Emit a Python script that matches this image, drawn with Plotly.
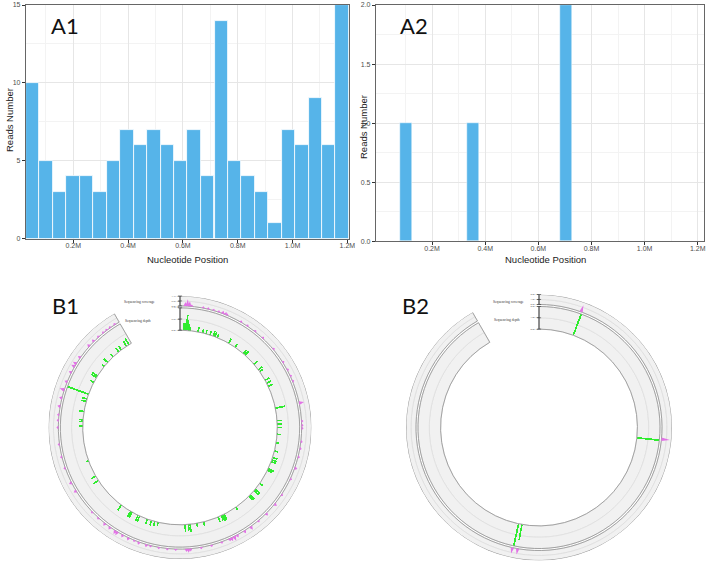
import plotly.graph_objects as go

W, H = 709, 563

# ---------------- Panel A data ----------------
a1_bin_center_mb = [0.052, 0.101, 0.150, 0.199, 0.249, 0.298, 0.347, 0.396, 0.445, 0.494,
                    0.543, 0.592, 0.641, 0.690, 0.740, 0.789, 0.838, 0.887, 0.936, 0.985,
                    1.034, 1.083, 1.132, 1.181]
a1_reads = [10, 5, 3, 4, 4, 3, 5, 7, 6, 7, 6, 5, 7, 4, 14, 5, 4, 3, 1, 7, 6, 9, 6, 15]

a2_bin_center_mb = [0.102, 0.353, 0.704]
a2_reads = [1, 1, 2]

x_tick_mb = [0.2, 0.4, 0.6, 0.8, 1.0, 1.2]
x_tick_labels = ["0.2M", "0.4M", "0.6M", "0.8M", "1.0M", "1.2M"]
x_minor_mb = [0.1, 0.3, 0.5, 0.7, 0.9, 1.1]
a1_y_ticks = [0, 5, 10, 15]
a1_y_minor = [2.5, 7.5, 12.5]
a2_y_ticks = [0, 0.5, 1.0, 1.5, 2.0]
a2_y_minor = [0.25, 0.75, 1.25, 1.75]

# ---------------- Panel B1 data (genome position kb, value) ----------------
b1_depth_pos_kb = [7.3, 9.5, 11.6, 14.2, 16.4, 18.9, 21.5, 38.9, 49.1, 56.4, 65.5, 72.7, 76.4, 81.8,
                   109.1, 125.5, 148.0, 152.7, 179.6, 194.9, 200.0, 221.8, 229.1, 236.4, 285.5,
                   312.7, 320.0, 327.3, 341.8, 360.0, 378.2, 392.7, 398.2, 401.8, 418.2, 421.8,
                   454.5, 470.9, 474.5, 487.3, 490.9, 527.3, 556.4, 560.0, 563.6, 570.9, 603.6,
                   618.2, 632.7, 636.4, 643.6, 701.8, 709.1, 716.4, 725.8, 743.6, 747.3, 761.8,
                   765.5, 789.1, 861.8, 872.7, 909.1, 985.5, 994.5, 998.2, 1016.4, 1038.2,
                   1043.6, 1054.5, 1082.5, 1094.5, 1098.2, 1123.6, 1134.5, 1151.3, 1167.3,
                   1174.5, 1188.0, 1194.2]
b1_depth_val = [350, 350, 350, 750, 500, 350, 200, 250, 200, 200, 200, 250, 250, 200,
                250, 200, 250, 250, 250, 250, 200, 250, 250, 250, 500,
                250, 250, 250, 200, 150, 200, 250, 250, 250, 300, 250,
                200, 300, 300, 300, 250, 150, 300, 350, 250, 250, 200,
                200, 400, 300, 350, 200, 250, 250, 250, 300, 300, 300,
                300, 300, 300, 250, 150, 200, 200, 200, 250, 250,
                250, 1100, 200, 300, 300, 150, 250, 200, 250,
                250, 300, 350]
b1_cov_pos_kb = [9.1, 12.7, 16.4, 20.0, 40.0, 48.7, 58.2, 67.3, 74.5, 79.6, 82.5, 109.1, 121.8,
                 138.2, 155.6, 181.8, 209.5, 224.7, 236.4, 245.8, 285.1, 316.4, 323.6, 328.7,
                 351.6, 363.6, 378.2, 398.2, 418.2, 449.1, 469.1, 490.9, 509.1, 525.5, 538.2,
                 552.7, 558.5, 563.6, 567.3, 581.8, 600.0, 618.2, 636.4, 640.0, 643.6, 661.8,
                 676.4, 690.9, 705.5, 712.7, 726.2, 734.5, 745.5, 756.4, 767.3, 770.9, 781.8,
                 792.7, 807.3, 821.8, 867.6, 883.6, 910.9, 930.9, 952.7, 981.8, 994.2, 1003.6,
                 1018.2, 1032.7, 1047.3, 1061.8, 1079.3, 1090.9, 1096.4, 1109.1, 1134.2,
                 1145.5, 1156.4, 1167.3, 1174.5, 1181.8, 1191.3]
b1_cov_val = [440, 770, 550, 220, 220, 220, 220, 220, 330, 330, 220, 220, 220,
              220, 220, 220, 220, 220, 220, 220, 550, 220, 220, 220,
              220, 220, 220, 330, 220, 220, 330, 330, 220, 440, 330,
              330, 550, 440, 330, 220, 220, 220, 330, 440, 330, 220,
              220, 220, 220, 330, 330, 220, 330, 330, 440, 440, 330,
              330, 220, 220, 330, 330, 220, 220, 220, 220, 220, 220,
              330, 330, 550, 330, 330, 440, 440, 330, 330,
              330, 220, 220, 220, 220, 220]
b1_depth_max = 1100
b1_cov_max = 1100
b1_depth_ticks = [0, 550, 1100]
b1_depth_tick_labels = ["0.0e+00", "5.5e+02", "1.1e+03"]
b1_cov_ticks = [0, 550, 1100]
b1_cov_tick_labels = ["0.0e+00", "5.5e+02", "1.1e+03"]

# ---------------- Panel B2 data ----------------
b2_depth_pos_kb = [74.2, 349.1, 690.9, 698.2]
b2_depth_val = [2, 2, 1.4, 2]
b2_cov_pos_kb = [72.7, 347.3, 690.9, 700.0]
b2_cov_val = [1.4, 1.7, 1.2, 1.2]
b2_depth_max = 2
b2_cov_max = 2
b2_depth_ticks = [0, 1, 2]
b2_depth_tick_labels = ["0.0e+00", "1.0e+00", "2.0e+00"]
b2_cov_ticks = [0, 1, 2]
b2_cov_tick_labels = ["0.0e+00", "1.0e+00", "2.0e+00"]

track_names = ["Sequencing coverage", "Sequencing depth"]
panel_labels = ["A1", "A2", "B1", "B2"]

# ---------------- styling / geometry ----------------
BAR_BLUE = "#56B4E9"
GREEN = "#2fec2f"
MAGENTA = "#e273e6"
SPAN = 330.0                 # degrees covered by the genome ring
DEG_PER_KB = SPAN / 1200.0
DEPTH_IN, DEPTH_OUT = 0.74, 0.91
COV_IN, COV_OUT = 0.925, 1.0
FONT = "Liberation Sans"

fig = go.Figure()

fig.add_trace(go.Bar(x=a1_bin_center_mb, y=a1_reads, width=0.0491, xaxis="x", yaxis="y",
                     marker=dict(color=BAR_BLUE, line=dict(color="white", width=0.8)),
                     showlegend=False))
fig.add_trace(go.Bar(x=a2_bin_center_mb, y=a2_reads, width=0.046, xaxis="x2", yaxis="y2",
                     marker=dict(color=BAR_BLUE, line=dict(color="white", width=0.5)),
                     showlegend=False))


def add_ring(subplot, depth_pos, depth_val, depth_max, cov_pos, cov_val, cov_max,
             depth_ticks, depth_labels, cov_ticks, cov_labels, bar_w, spike_w):
    # track backgrounds split in halves (mid grid line)
    for r0, r1 in [(DEPTH_IN, DEPTH_OUT), (COV_IN, COV_OUT)]:
        mid = (r0 + r1) / 2
        fig.add_trace(go.Barpolar(theta=[SPAN / 2, SPAN / 2], width=[SPAN, SPAN],
                                  base=[r0, mid], r=[mid - r0, r1 - mid], subplot=subplot,
                                  marker=dict(color="#f1f1f1", line=dict(color="#dcdcdc", width=0.7)),
                                  hoverinfo="skip", showlegend=False))
    # depth bars
    fig.add_trace(go.Barpolar(theta=[p * DEG_PER_KB for p in depth_pos],
                              r=[v / depth_max * (DEPTH_OUT - DEPTH_IN) for v in depth_val],
                              base=DEPTH_IN, width=bar_w, subplot=subplot,
                              marker=dict(color=GREEN, line=dict(width=0)),
                              showlegend=False))
    # coverage spikes as a filled polygon (outline hidden)
    items = sorted(zip(cov_pos, cov_val))
    th, rr = [], []
    for p, v in items:
        t = p * DEG_PER_KB
        h = v / cov_max * (COV_OUT - COV_IN)
        th += [t - spike_w, t, t + spike_w]
        rr += [COV_IN, COV_IN + h, COV_IN]
    base_th = [t for t, r in zip(th, rr) if r == COV_IN]
    th_full = th + base_th[::-1]
    rr_full = rr + [COV_IN] * len(base_th)
    fig.add_trace(go.Scatterpolar(theta=th_full, r=rr_full, mode="lines", fill="toself",
                                  fillcolor=MAGENTA, line=dict(width=0, color=MAGENTA),
                                  subplot=subplot, showlegend=False, hoverinfo="skip"))
    # track outlines
    fig.add_trace(go.Barpolar(theta=[SPAN / 2, SPAN / 2], width=[SPAN, SPAN],
                              base=[DEPTH_IN, COV_IN], r=[DEPTH_OUT - DEPTH_IN, COV_OUT - COV_IN],
                              subplot=subplot,
                              marker=dict(color="rgba(0,0,0,0)", line=dict(color="#9a9a9a", width=0.9)),
                              hoverinfo="skip", showlegend=False))
    # small scale axis at the ring start
    d_r = [DEPTH_IN + t / depth_max * (DEPTH_OUT - DEPTH_IN) for t in depth_ticks]
    c_r = [COV_IN + t / cov_max * (COV_OUT - COV_IN) for t in cov_ticks]
    fig.add_trace(go.Scatterpolar(theta=[0] * (len(d_r) + len(c_r) + 1),
                                  r=d_r + [None] + c_r, mode="lines+markers",
                                  line=dict(color="#333333", width=0.8),
                                  marker=dict(symbol="line-ew", size=3,
                                              line=dict(color="#333333", width=0.6)),
                                  subplot=subplot, showlegend=False, hoverinfo="skip"))
    fig.add_trace(go.Scatterpolar(theta=[0] * (len(d_r) + len(c_r)), r=d_r + c_r,
                                  mode="text", text=depth_labels + cov_labels,
                                  textposition="middle left",
                                  textfont=dict(size=2.6, color="#333333", family="Liberation Serif"),
                                  subplot=subplot, showlegend=False, hoverinfo="skip"))


add_ring("polar", b1_depth_pos_kb, b1_depth_val, b1_depth_max, b1_cov_pos_kb, b1_cov_val,
         b1_cov_max, b1_depth_ticks, b1_depth_tick_labels, b1_cov_ticks, b1_cov_tick_labels,
         0.95, 0.9)
add_ring("polar2", b2_depth_pos_kb, b2_depth_val, b2_depth_max, b2_cov_pos_kb, b2_cov_val,
         b2_cov_max, b2_depth_ticks, b2_depth_tick_labels, b2_cov_ticks, b2_cov_tick_labels,
         0.9, 0.8)


def px_x(p):
    return p / W


def px_y(p):
    return 1 - p / H


def xaxis_style(dom, rng, anchor):
    return dict(domain=dom, range=rng, anchor=anchor, tickmode="array", tickvals=x_tick_mb,
                ticktext=x_tick_labels, ticks="outside", ticklen=3, tickwidth=0.8,
                ticklabelstandoff=-3,
                tickcolor="#333333", tickfont=dict(size=7, color="#4d4d4d", family=FONT),
                showgrid=True, gridcolor="#e6e6e6", gridwidth=0.9,
                minor=dict(tickmode="array", tickvals=x_minor_mb, showgrid=True,
                           gridcolor="#f3f3f3", gridwidth=0.5),
                showline=True, linecolor="#666666", linewidth=1.2, mirror=True,
                zeroline=False, automargin=False, fixedrange=True)


def yaxis_style(dom, rng, anchor, ticks, minor, fmt):
    return dict(domain=dom, range=rng, anchor=anchor, tickmode="array", tickvals=ticks,
                tickformat=fmt, ticks="outside", ticklen=3, tickwidth=0.8, tickcolor="#333333",
                tickfont=dict(size=7, color="#4d4d4d", family=FONT),
                showgrid=True, gridcolor="#e6e6e6", gridwidth=0.9,
                minor=dict(tickmode="array", tickvals=minor, showgrid=True,
                           gridcolor="#f3f3f3", gridwidth=0.5),
                showline=True, linecolor="#666666", linewidth=1.2, mirror=True,
                zeroline=False, automargin=False, fixedrange=True)


def polar_style(cx, cy, R):
    hidden = dict(visible=True, showline=False, showgrid=False, showticklabels=False, ticks="")
    return dict(domain=dict(x=[px_x(cx - R), px_x(cx + R)], y=[px_y(cy + R), px_y(cy - R)]),
                bgcolor="rgba(0,0,0,0)", barmode="overlay", hole=0,
                angularaxis=dict(direction="clockwise", rotation=90, **hidden),
                radialaxis=dict(range=[0, 1], autorange=False, **hidden))


annotations = []
for txt, x, y in [(panel_labels[0], 64.5, 26), (panel_labels[1], 414, 26),
                  (panel_labels[2], 65, 305), (panel_labels[3], 415.5, 305.5)]:
    annotations.append(dict(text=txt, x=px_x(x), y=px_y(y), xref="paper", yref="paper",
                            showarrow=False, xanchor="center", yanchor="middle",
                            font=dict(family="Lato", size=22, color="#111111")))
for x, y in [(188, 259), (545.5, 259)]:
    annotations.append(dict(text="Nucleotide Position", x=px_x(x), y=px_y(y), xref="paper",
                            yref="paper", showarrow=False, xanchor="center", yanchor="middle",
                            font=dict(family=FONT, size=9.5, color="#222222")))
for x, y in [(10, 120), (364, 127)]:
    annotations.append(dict(text="Reads Number", x=px_x(x), y=px_y(y), xref="paper",
                            yref="paper", showarrow=False, xanchor="center", yanchor="middle",
                            textangle=-90, font=dict(family=FONT, size=9.5, color="#222222")))
for x, y1, y2 in [(157, 302, 321), (526, 302, 320)]:
    annotations.append(dict(text=track_names[0], x=px_x(x), y=px_y(y1), xref="paper",
                            yref="paper", showarrow=False, xanchor="right", yanchor="middle",
                            font=dict(family="Liberation Serif", size=3.6, color="#333333")))
    annotations.append(dict(text=track_names[1], x=px_x(x - 4), y=px_y(y2), xref="paper",
                            yref="paper", showarrow=False, xanchor="right", yanchor="middle",
                            font=dict(family="Liberation Serif", size=3.6, color="#333333")))

fig.update_layout(
    width=W, height=H, margin=dict(l=0, r=0, t=0, b=0),
    paper_bgcolor="white", plot_bgcolor="white", template="none",
    showlegend=False, bargap=0,
    xaxis=xaxis_style([px_x(26), px_x(349)], [0.0274, 1.206], "y"),
    yaxis=yaxis_style([px_y(238.7), px_y(5)], [0, 15], "x", a1_y_ticks, a1_y_minor, "d"),
    xaxis2=xaxis_style([px_x(376), px_x(704)], [-0.011, 1.2236], "y2"),
    yaxis2=yaxis_style([px_y(241.3), px_y(5)], [0, 2], "x2", a2_y_ticks, a2_y_minor, ".1f"),
    polar=polar_style(180, 427.5, 131.5),
    polar2=polar_style(539, 427.5, 133),
    annotations=annotations,
)

fig.write_html("out.html", config={"displayModeBar": False},
               post_script="document.body.style.margin='0';document.body.style.padding='0';"
                           "document.documentElement.style.margin='0';")
